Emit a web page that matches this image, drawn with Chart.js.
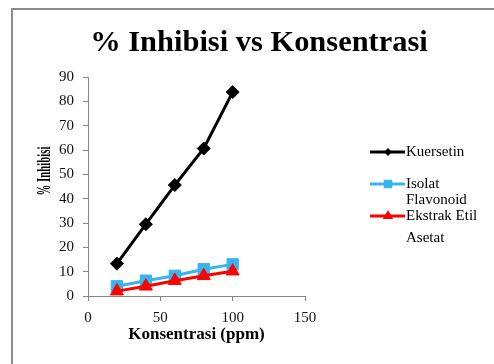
<!DOCTYPE html>
<html>
<head>
<meta charset="utf-8">
<script src="https://cdn.jsdelivr.net/npm/chart.js@4/dist/chart.umd.min.js"></script>
<style>
  html, body { margin: 0; padding: 0; background: #ffffff; }
  #wrap { width: 494px; height: 364px; position: relative; }
</style>
</head>
<body>
<div id="wrap"><canvas id="c" width="494" height="364"></canvas></div>
<script>
// ---- data ----
const chartTitle = '% Inhibisi vs Konsentrasi';
const xTitle = 'Konsentrasi (ppm)';
const yTitle = '% Inhibisi';
const concentrations = [20, 40, 60, 80, 100];
const kuersetin = [13.3, 29.5, 45.6, 60.6, 83.8];
const isolatFlavonoid = [4.0, 6.3, 8.3, 11.0, 13.0];
const ekstrakEtilAsetat = [2.0, 4.0, 6.3, 8.3, 10.2];
const seriesNames = ['Kuersetin', 'Isolat Flavonoid', 'Ekstrak Etil Asetat'];
const legendLines = [['Kuersetin'], ['Isolat', 'Flavonoid'], ['Ekstrak Etil', 'Asetat']];
const xTicks = [0, 50, 100, 150];
const yTicks = [0, 10, 20, 30, 40, 50, 60, 70, 80, 90];

const SERIF = '"Liberation Serif", "Times New Roman", serif';
const toPts = (ys) => ys.map((y, i) => ({ x: concentrations[i], y: y }));

function drawMarker(ctx, style, x, y, r, color) {
  ctx.save();
  ctx.fillStyle = color;
  ctx.beginPath();
  if (style === 'rectRot') {
    ctx.moveTo(x - r, y); ctx.lineTo(x, y - r); ctx.lineTo(x + r, y); ctx.lineTo(x, y + r);
  } else if (style === 'rect') {
    const s = Math.SQRT1_2 * r;
    ctx.rect(x - s, y - s, 2 * s, 2 * s);
  } else if (style === 'triangle') {
    ctx.moveTo(x, y - r);
    ctx.lineTo(x + Math.sin(2 * Math.PI / 3) * r, y + 0.5 * r);
    ctx.lineTo(x - Math.sin(2 * Math.PI / 3) * r, y + 0.5 * r);
  }
  ctx.closePath();
  ctx.fill();
  ctx.restore();
}

const decor = {
  id: 'decor',
  beforeDraw(chart) {
    const ctx = chart.ctx;
    ctx.save();
    ctx.fillStyle = '#ffffff';
    ctx.fillRect(0, 0, chart.width, chart.height);
    ctx.strokeStyle = '#8c8c8c';
    ctx.lineWidth = 2;
    ctx.strokeRect(12, 9, 700, 700);
    ctx.restore();
  },
  afterDraw(chart) {
    const ctx = chart.ctx;
    ctx.save();
    // main title
    ctx.save();
    ctx.translate(259, 51);
    ctx.scale(1.05, 1);
    ctx.fillStyle = '#000';
    ctx.font = 'bold 29px ' + SERIF;
    ctx.textAlign = 'center';
    ctx.textBaseline = 'alphabetic';
    ctx.fillText(chartTitle, 0, 0);
    ctx.restore();
    // y axis title (rotated)
    ctx.save();
    ctx.translate(50, 171);
    ctx.rotate(-Math.PI / 2);
    ctx.scale(0.6, 1);
    ctx.fillStyle = '#000';
    ctx.font = 'bold 18px ' + SERIF;
    ctx.textAlign = 'center';
    ctx.textBaseline = 'alphabetic';
    ctx.fillText(yTitle, 0, 0);
    ctx.restore();
    // legend
    const legendY = [152, 184, 216];
    const lineGap = [0, 16, 22];
    chart.data.datasets.forEach((ds, i) => {
      const y = legendY[i];
      ctx.strokeStyle = ds.borderColor;
      ctx.lineWidth = 3;
      ctx.beginPath();
      ctx.moveTo(370, y); ctx.lineTo(405, y);
      ctx.stroke();
      drawMarker(ctx, ds.pointStyle, 388, y, ds.legendRadius, ds.pointBackgroundColor);
      ctx.fillStyle = '#000';
      ctx.font = '15px ' + SERIF;
      ctx.textAlign = 'left';
      ctx.textBaseline = 'middle';
      legendLines[i].forEach((t, k) => {
        ctx.fillText(t, 406, y + k * lineGap[i]);
      });
    });
    ctx.restore();
  }
};

new Chart(document.getElementById('c'), {
  type: 'line',
  data: {
    datasets: [
      {
        label: seriesNames[0], data: toPts(kuersetin),
        borderColor: '#000000', backgroundColor: '#000000',
        pointBackgroundColor: '#000000', pointBorderColor: '#000000',
        pointStyle: 'rectRot', pointRadius: 6.5, pointBorderWidth: 1,
        borderWidth: 3, legendRadius: 4, order: 2
      },
      {
        label: seriesNames[1], data: toPts(isolatFlavonoid),
        borderColor: '#38b4ee', backgroundColor: '#38b4ee',
        pointBackgroundColor: '#38b4ee', pointBorderColor: '#38b4ee',
        pointStyle: 'rect', pointRadius: 8, pointBorderWidth: 1,
        borderWidth: 3, legendRadius: 6, order: 1
      },
      {
        label: seriesNames[2], data: toPts(ekstrakEtilAsetat),
        borderColor: '#ff0000', backgroundColor: '#ff0000',
        pointBackgroundColor: '#ff0000', pointBorderColor: '#ff0000',
        pointStyle: 'triangle', pointRadius: 7.5, pointBorderWidth: 1,
        borderWidth: 3, legendRadius: 6, order: 0
      }
    ]
  },
  options: {
    responsive: false,
    animation: false,
    devicePixelRatio: 1,
    layout: { padding: { left: 12, right: 189, top: 77, bottom: 0 } },
    plugins: { legend: { display: false }, title: { display: false }, tooltip: { enabled: false } },
    elements: { line: { tension: 0 } },
    scales: {
      x: {
        type: 'linear', min: 0, max: 150,
        afterBuildTicks: (s) => { s.ticks = xTicks.map(v => ({ value: v })); },
        afterFit: (s) => { s.height = 68; },
        grid: { drawOnChartArea: false, drawTicks: true, tickLength: 5, color: '#868686', lineWidth: 1 },
        border: { display: true, color: '#868686', width: 1 },
        ticks: { color: '#111', font: { family: SERIF, size: 15 }, padding: 8, maxRotation: 0 },
        title: { display: true, text: xTitle, color: '#000', font: { family: SERIF, size: 17, weight: 'bold' }, padding: { top: 0, bottom: 19 } }
      },
      y: {
        min: 0, max: 90,
        afterBuildTicks: (s) => { s.ticks = yTicks.map(v => ({ value: v })); },
        afterFit: (s) => { s.width = 76; },
        grid: { drawOnChartArea: false, drawTicks: true, tickLength: 5, color: '#868686', lineWidth: 1 },
        border: { display: true, color: '#868686', width: 1 },
        ticks: { color: '#111', font: { family: SERIF, size: 15 }, padding: 9 },
        title: { display: false }
      }
    }
  },
  plugins: [decor]
});
</script>
</body>
</html>
